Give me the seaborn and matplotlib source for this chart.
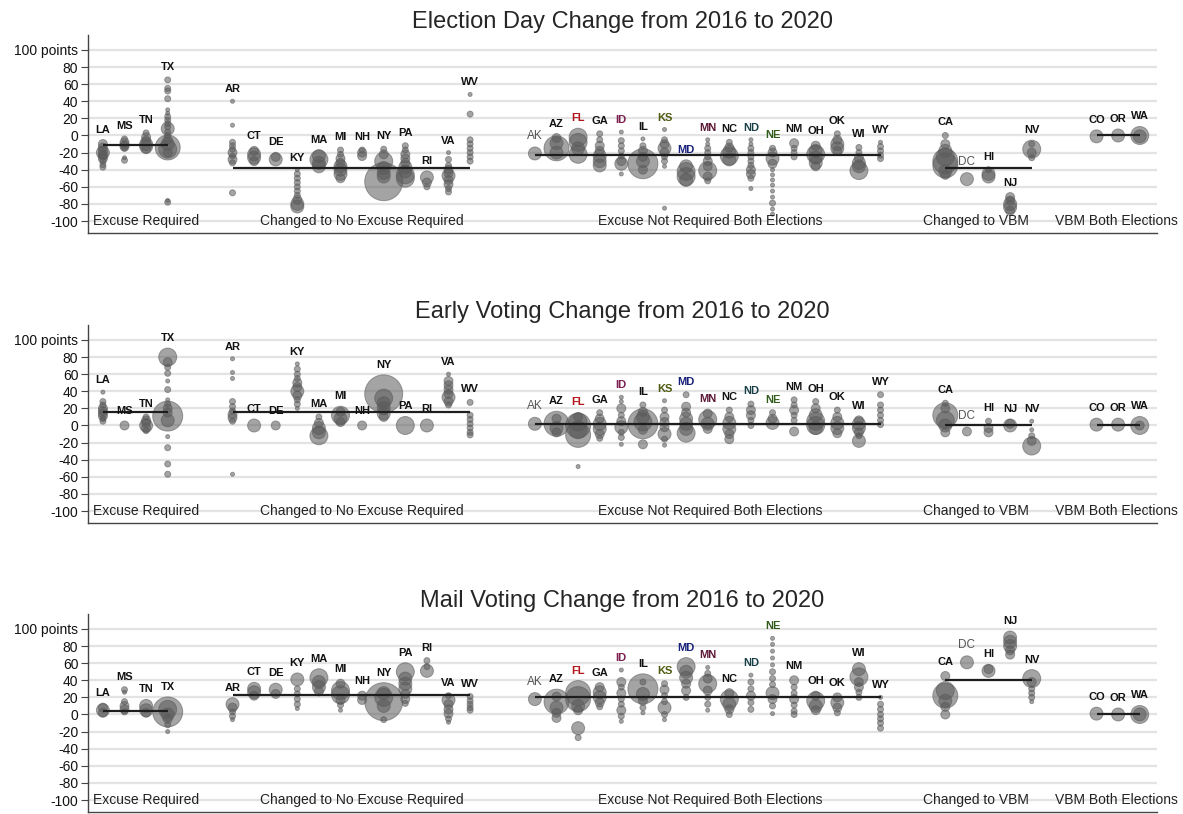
import numpy as np
import pandas as pd
import matplotlib
matplotlib.use("Agg")
import matplotlib.pyplot as plt
import seaborn as sns

# states in plotting order, with their policy group
states = ["LA", "MS", "TN", "TX",
          "AR", "CT", "DE", "KY", "MA", "MI", "NH", "NY", "PA", "RI", "VA", "WV",
          "AK", "AZ", "FL", "GA", "ID", "IL", "KS", "MD", "MN", "NC", "ND", "NE",
          "NM", "OH", "OK", "WI", "WY",
          "CA", "DC", "HI", "NJ", "NV",
          "CO", "OR", "WA"]
state_group = [0] * 4 + [1] * 12 + [2] * 17 + [3] * 5 + [4] * 3
group_names = ["Excuse Required", "Changed to No Excuse Required",
               "Excuse Not Required Both Elections", "Changed to VBM",
               "VBM Both Elections"]
titles = ["Election Day Change from 2016 to 2020",
          "Early Voting Change from 2016 to 2020",
          "Mail Voting Change from 2016 to 2020"]

# county changes (points) and bubble size class (1 small .. 8 huge), per state
eday_vals = [
    [-10, -14, -18, -20, -22, -24, -27, -30, -34, -37],   # LA
    [-4, -8, -11, -13, -15, -26, -29],                     # MS
    [3, -2, -6, -10, -13, -16],                            # TN
    [65, 55, 52, 43, 30, 26, 22, 18, 14, 10, 8, 4, 0, -5, -10, -14, -16, -20, -76, -78],  # TX
    [40, 12, -8, -12, -16, -20, -24, -28, -32, -67],       # AR
    [-18, -22, -26, -30],                                  # CT
    [-25, -28],                                            # DE
    [-40, -45, -50, -55, -60, -65, -70, -75, -80, -83],    # KY
    [-24, -28, -32, -36],                                  # MA
    [-17, -22, -27, -32, -36, -40, -45, -50],              # MI
    [-17, -20, -24],                                       # NH
    [-16, -22, -30, -38, -44, -48, -54],                   # NY
    [-12, -17, -22, -27, -32, -37, -42, -46, -50],         # PA
    [-49, -55, -60],                                       # RI
    [-20, -28, -35, -40, -44, -47, -52, -57, -62, -66],    # VA
    [48, 25, -5, -10, -15, -20, -25, -30],                 # WV
    [-21],                                                 # AK
    [-3, -9, -15, -20],                                    # AZ
    [-2, -8, -15, -22],                                    # FL
    [2, -5, -12, -18, -24, -30, -35],                      # GA
    [4, -6, -12, -18, -24, -30, -33, -45],                 # ID
    [-4, -12, -18, -25, -30, -33, -40],                    # IL
    [7, -5, -10, -15, -20, -25, -30, -36, -85],            # KS
    [-36, -42, -48, -52],                                  # MD
    [-5, -10, -15, -20, -25, -30, -36, -41, -48, -53],     # MN
    [-8, -14, -19, -24, -28],                              # NC
    [-5, -10, -15, -20, -25, -30, -35, -40, -45, -50, -62],  # ND
    [-15, -20, -27, -33, -40, -46, -52, -58, -65, -72, -79, -86, -92],  # NE
    [-9, -15, -20, -25],                                   # NM
    [-12, -18, -22, -26, -32, -36],                        # OH
    [2, -5, -10, -15, -18],                                # OK
    [-14, -20, -26, -32, -36, -41],                        # WI
    [-8, -13, -18, -23, -27],                              # WY
    [0, -10, -18, -25, -30, -35, -42, -46],                # CA
    [-51],                                                 # DC
    [-40, -45, -48],                                       # HI
    [-72, -76, -80, -84, -88],                             # NJ
    [-10, -16, -20, -26],                                  # NV
    [-1],                                                  # CO
    [0],                                                   # OR
    [0, -1],                                               # WA
]
eday_size = [
    [3, 3, 3, 4, 3, 3, 3, 2, 2, 2],
    [2, 3, 3, 3, 2, 1, 2],
    [2, 3, 3, 4, 4, 3],
    [2, 2, 2, 2, 1, 1, 2, 2, 2, 2, 4, 2, 2, 3, 4, 6, 5, 3, 1, 2],
    [1, 1, 2, 2, 2, 3, 2, 3, 2, 2],
    [3, 4, 4, 3],
    [3, 4],
    [1, 2, 2, 2, 2, 2, 2, 3, 4, 4],
    [4, 5, 4, 4],
    [2, 2, 3, 3, 4, 4, 4, 3],
    [2, 3, 3],
    [2, 3, 5, 4, 4, 4, 8],
    [2, 2, 3, 3, 3, 4, 4, 5, 5],
    [4, 3, 2],
    [1, 2, 2, 3, 3, 4, 3, 3, 2, 2],
    [1, 2, 2, 2, 2, 2, 2, 2],
    [4],
    [3, 4, 6, 4],
    [5, 5, 4, 5],
    [2, 2, 3, 3, 4, 4, 4],
    [1, 2, 2, 2, 2, 3, 4, 1],
    [1, 2, 3, 3, 4, 7, 3],
    [1, 2, 3, 4, 3, 2, 2, 1, 1],
    [4, 5, 5, 4],
    [1, 1, 2, 2, 2, 3, 3, 5, 3, 2],
    [2, 3, 4, 5, 4],
    [1, 1, 2, 2, 2, 2, 2, 3, 3, 2, 1],
    [2, 3, 4, 3, 1, 1, 1, 1, 1, 1, 2, 1, 1],
    [3, 2, 2, 2],
    [3, 4, 5, 4, 4, 3],
    [2, 3, 4, 4, 3],
    [2, 2, 3, 4, 4, 5],
    [1, 2, 2, 2, 2],
    [2, 3, 4, 5, 6, 6, 4, 3],
    [4],
    [2, 4, 4],
    [3, 3, 4, 4, 3],
    [2, 5, 3, 2],
    [4],
    [4],
    [5, 4],
]

early_vals = [
    [39, 28, 24, 20, 17, 14, 11, 8, 5],                    # LA
    [0],                                                   # MS
    [10, 6, 3, 0, -3, -6],                                 # TN
    [80, 74, 68, 61, 52, 42, 30, 25, 20, 15, 11, 6, -13, -26, -45, -57],  # TX
    [78, 62, 55, 28, 22, 17, 13, 9, 5, -57],               # AR
    [0],                                                   # CT
    [0],                                                   # DE
    [72, 66, 60, 55, 50, 45, 40, 35, 30, 25, 20],          # KY
    [10, 3, -3, -8, -12],                                  # MA
    [16, 12, 8, 4],                                        # MI
    [0],                                                   # NH
    [37, 32, 26, 20, 14, 10],                              # NY
    [0],                                                   # PA
    [0],                                                   # RI
    [60, 52, 47, 42, 37, 33, 28, 24],                      # VA
    [27, 12, 7, 2, -3, -8, -11],                           # WV
    [2],                                                   # AK
    [8, 2, -3, -8],                                        # AZ
    [10, 4, 0, -5, -11, -48],                              # FL
    [15, 8, 2, -4, -10, -15],                              # GA
    [33, 28, 20, 12, 5, -2, -8, -14, -22],                 # ID
    [24, 16, 10, 4, 2, -5, -22],                           # IL
    [29, 18, 10, 4, -2, -10, -16, -23],                    # KS
    [36, 22, 15, 8, 2, -4, -9],                            # MD
    [14, 7, 2, -4],                                        # MN
    [18, 10, 3, -4, -10, -16],                             # NC
    [25, 18, 12, 6, 0],                                    # ND
    [15, 8, 3],                                            # NE
    [30, 24, 18, 12, 6, -7],                               # NM
    [28, 20, 12, 5, 0, -3],                                # OH
    [18, 10, 3, -3, -9],                                   # OK
    [6, 2, -3, -8, -12, -18],                              # WI
    [36, 24, 18, 12, 6, 1],                                # WY
    [26, 20, 12, 6, 0, -8],                                # CA
    [-7],                                                  # DC
    [5, -3, -8],                                           # HI
    [2, 0],                                                # NJ
    [5, -5, -12, -18, -24],                                # NV
    [1],                                                   # CO
    [1],                                                   # OR
    [0, 0],                                                # WA
]
early_size = [
    [1, 2, 2, 3, 3, 3, 3, 2, 2],
    [3],
    [2, 3, 3, 4, 3, 2],
    [5, 3, 2, 2, 1, 2, 1, 2, 3, 3, 7, 4, 1, 2, 2, 2],
    [1, 1, 1, 2, 2, 2, 3, 3, 2, 1],
    [4],
    [3],
    [1, 2, 2, 2, 3, 3, 4, 3, 2, 2, 1],
    [2, 3, 4, 4, 5],
    [3, 5, 4, 3],
    [3],
    [8, 5, 4, 4, 4, 3],
    [5],
    [4],
    [1, 3, 3, 3, 3, 4, 3, 2],
    [2, 2, 2, 2, 2, 2, 2],
    [4],
    [3, 6, 4, 3],
    [3, 5, 6, 5, 6, 1],
    [2, 3, 4, 4, 3, 2],
    [1, 1, 3, 2, 3, 4, 2, 2, 1],
    [2, 3, 4, 5, 7, 3, 3],
    [1, 2, 3, 3, 3, 4, 2, 1],
    [2, 3, 3, 4, 4, 4, 5],
    [3, 5, 4, 3],
    [2, 3, 4, 4, 3, 3],
    [2, 3, 3, 2, 2],
    [2, 3, 4],
    [2, 2, 3, 2, 2, 3],
    [2, 3, 4, 5, 5, 4],
    [2, 3, 4, 4, 3],
    [3, 4, 4, 3, 2, 4],
    [2, 2, 2, 2, 2, 2],
    [2, 3, 6, 5, 4, 3],
    [3],
    [2, 3, 3],
    [3, 4],
    [1, 1, 2, 3, 5],
    [4],
    [4],
    [5, 3],
]

mail_vals = [
    [8, 5, 2],                                             # LA
    [29, 26, 15, 10, 6, 3],                                # MS
    [10, 5, 2],                                            # TN
    [6, 3, 0, -5, -12, -20],                               # TX
    [12, 8, 3, -2, -6],                                    # AR
    [30, 26, 22],                                          # CT
    [29, 24],                                              # DE
    [41, 30, 24, 18, 12, 7],                               # KY
    [43, 38, 32, 27],                                      # MA
    [36, 28, 23, 17, 11, 5],                               # MI
    [22, 17],                                              # NH
    [25, 20, 15, 10, -6],                                  # NY
    [50, 42, 36, 30, 24, 18, 13],                          # PA
    [63, 56, 51],                                          # RI
    [22, 17, 12, 6, 1, -5, -9],                            # VA
    [21, 16, 12, 8, 5],                                    # WV
    [18],                                                  # AK
    [21, 15, 8, 2, -4],                                    # AZ
    [25, 18, 10, 5, -16, -27],                             # FL
    [32, 26, 20, 14, 9],                                   # GA
    [52, 38, 32, 25, 18, 12, 5, -2, -8],                   # ID
    [38, 30, 24, 16, 8, 2],                                # IL
    [36, 29, 22, 15, 8, 0, -6],                            # KS
    [56, 50, 43, 36, 28, 20],                              # MD
    [55, 48, 42, 36, 28, 20, 12, 5],                       # MN
    [25, 18, 12, 6, 0],                                    # NC
    [46, 38, 30, 22, 14, 6],                               # ND
    [89, 82, 74, 66, 58, 50, 42, 35, 25, 18, 10, 1],       # NE
    [40, 32, 25, 18, 11, 4, 0],                            # NM
    [22, 16, 10, 5],                                       # OH
    [20, 14, 8, 2],                                        # OK
    [53, 44, 38, 32, 26, 20],                              # WI
    [20, 12, 6, 0, -5, -10, -16],                          # WY
    [45, 28, 22, 16, 9, 0],                                # CA
    [61],                                                  # DC
    [51, 53],                                              # HI
    [90, 85, 80, 75, 70],                                  # NJ
    [42, 38, 30, 25, 20, 15],                              # NV
    [1],                                                   # CO
    [0],                                                   # OR
    [0, 0],                                                # WA
]
mail_size = [
    [3, 4, 3],
    [2, 1, 2, 3, 3, 2],
    [4, 4, 3],
    [5, 7, 4, 3, 2, 1],
    [4, 3, 2, 2, 1],
    [4, 4, 3],
    [4, 3],
    [4, 2, 2, 2, 2, 1],
    [5, 4, 4, 3],
    [3, 5, 5, 3, 2, 1],
    [3, 3],
    [4, 5, 8, 4, 2],
    [5, 4, 4, 4, 3, 3, 2],
    [2, 2, 4],
    [2, 4, 3, 3, 3, 2, 1],
    [2, 2, 2, 2, 2],
    [4],
    [3, 6, 4, 3, 3],
    [6, 6, 4, 3, 4, 2],
    [3, 4, 4, 3, 2],
    [1, 3, 2, 3, 2, 2, 3, 2, 1],
    [2, 7, 4, 3, 2, 1],
    [2, 3, 2, 2, 4, 2, 1],
    [5, 4, 4, 3, 3, 2],
    [1, 2, 3, 5, 3, 2, 2, 1],
    [3, 5, 4, 3, 2],
    [1, 2, 2, 3, 2, 2],
    [1, 1, 1, 1, 1, 2, 2, 2, 4, 3, 2, 1],
    [3, 2, 2, 3, 2, 2, 2],
    [3, 5, 4, 3],
    [3, 4, 3, 2],
    [4, 5, 3, 3, 2, 2],
    [1, 2, 2, 2, 2, 2, 2],
    [3, 5, 6, 4, 3, 3],
    [4],
    [4, 3],
    [4, 4, 4, 3, 3],
    [5, 3, 2, 2, 2, 1],
    [4],
    [4],
    [5, 4],
]

# group averages (points), one per policy group
eday_means = [-11, -38, -23, -38, 0]
early_means = [16, 16, 2, 0, 1]
mail_means = [4, 23, 21, 40, 0]

panels = [(eday_vals, eday_size, eday_means),
          (early_vals, early_size, early_means),
          (mail_vals, mail_size, mail_means)]

# ---- styling ----
sns.set_style("white")
plt.rcParams["font.family"] = ["Liberation Sans", "DejaVu Sans"]

diam_px = {1: 4, 2: 6, 3: 9, 4: 13, 5: 18, 6: 25, 7: 30, 8: 38}
size_map = {k: (d * 0.72) ** 2 for k, d in diam_px.items()}
label_color = {"FL": "#b3161b", "ID": "#7a1f4f", "KS": "#4f5b12", "MD": "#17207a",
               "MN": "#5c1836", "ND": "#173f45", "NE": "#2f5a17"}
group_label_x = [2.0, 12.0, 28.1, 40.4, 46.9]

# x slot: running index plus a 2-slot gap between groups
xpos = [i + 2 * g for i, g in enumerate(state_group)]

fig = plt.figure(figsize=(11.83, 8.14), dpi=100)
tops = [35, 325, 614]
ylo, yhi = -114, 117.5
for p, (vals, sizes, means) in enumerate(panels):
    ax = fig.add_axes([88 / 1183, 1 - (tops[p] + 198) / 814, 1069 / 1183, 198 / 814])
    rows = []
    for st, x, vs, ss in zip(states, xpos, vals, sizes):
        for v, s in zip(vs, ss):
            rows.append((st, x, v, s))
    df = pd.DataFrame(rows, columns=["state", "x", "val", "size"])
    df = df.sort_values("size", ascending=False, kind="stable")

    sns.scatterplot(data=df, x="x", y="val", size="size", sizes=size_map,
                    color="#5a5a5a", alpha=0.55, edgecolor="#5a5a5a",
                    linewidth=0.7, legend=False, ax=ax, zorder=3)
    ax.set_xlim(-0.69, 48.8)
    ax.set_ylim(ylo, yhi)

    # group mean lines and group names
    for g, m in enumerate(means):
        xs = [x for x, sg in zip(xpos, state_group) if sg == g]
        ax.hlines(m, min(xs), max(xs), color="#1e1e1e", lw=1.6, zorder=4)
        ax.text(group_label_x[g], -100, group_names[g], ha="center", va="center",
                fontsize=10, color="#222222", zorder=5, clip_on=False)

    # state labels above the top of each state's bubbles
    fig.canvas.draw()
    for st, x, vs, ss in zip(states, xpos, vals, sizes):
        top = max(ax.transData.transform((x, v))[1] + diam_px[s] / 2 for v, s in zip(vs, ss))
        y_lab = ax.transData.inverted().transform((0, top + 5))[1]
        if st in ("AK", "DC"):
            ax.text(x, y_lab, st, ha="center", va="bottom", fontsize=8.5,
                    color="#555555", zorder=6)
        else:
            ax.text(x, y_lab, st, ha="center", va="bottom", fontsize=8,
                    fontweight="bold", color=label_color.get(st, "#111111"), zorder=6)

    ticks = list(range(-100, 101, 20))
    ax.set_yticks(ticks)
    ax.set_yticklabels(["100 points" if t == 100 else str(t) for t in ticks],
                       fontsize=10, color="#111111")
    ax.set_xticks([])
    ax.set_xlabel("")
    ax.set_ylabel("")
    ax.grid(axis="y", color="#e3e3e3", lw=1.6)
    ax.set_axisbelow(True)
    ax.tick_params(axis="y", length=5, width=0.8, color="#444444", pad=2, left=True)
    for side in ["top", "right"]:
        ax.spines[side].set_visible(False)
    for side in ["left", "bottom"]:
        ax.spines[side].set_color("#444444")
        ax.spines[side].set_linewidth(1.0)
    ax.set_title(titles[p], fontsize=17, pad=5)

fig.savefig("out.png", dpi=100)
